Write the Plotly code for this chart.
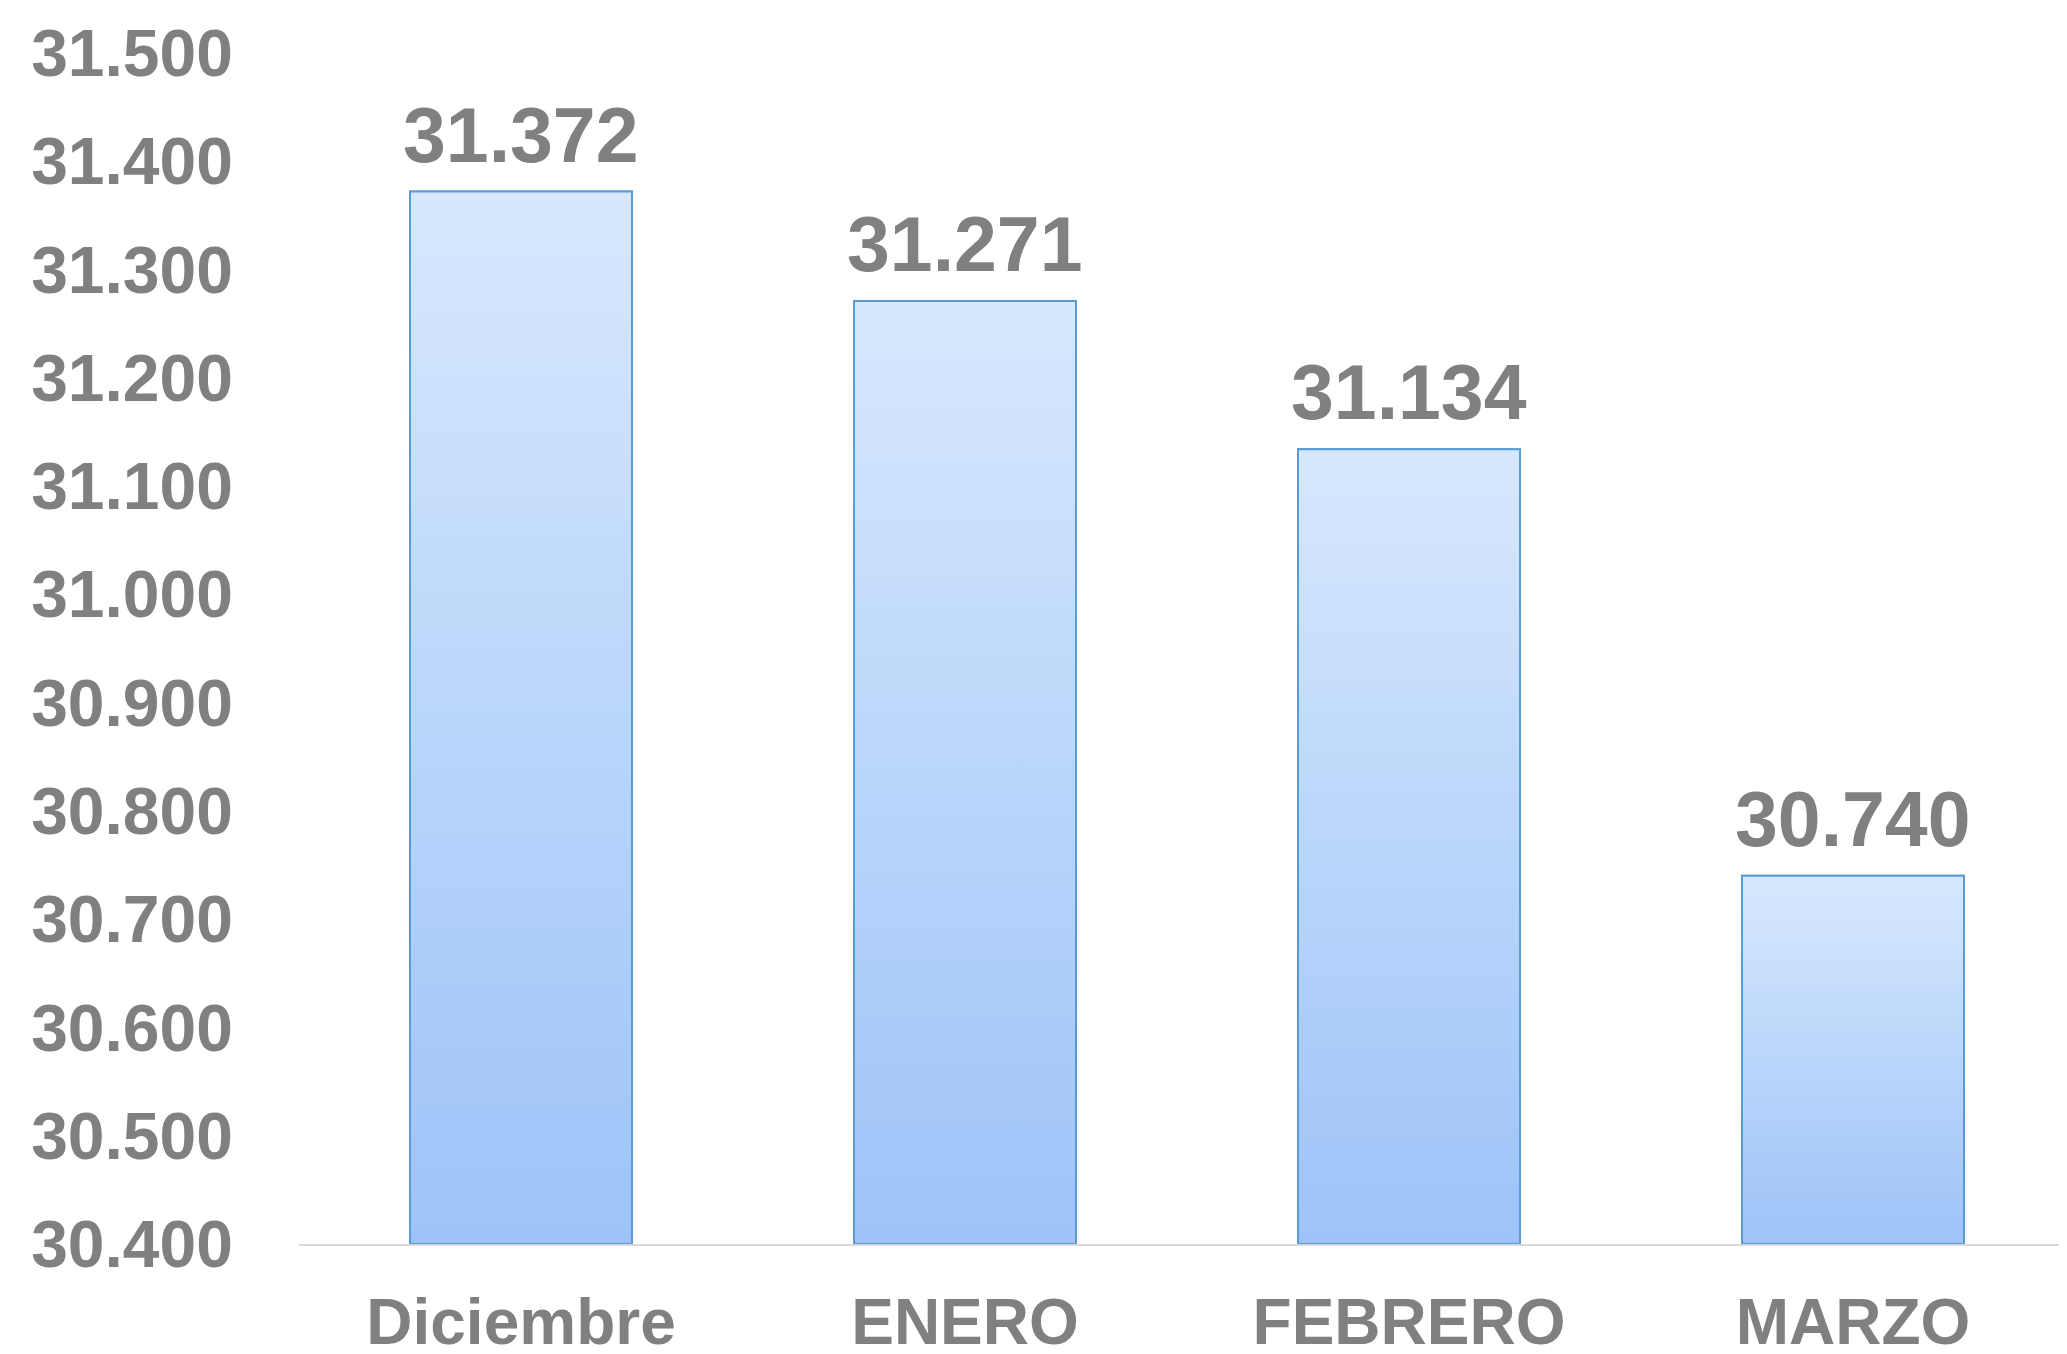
import plotly.graph_objects as go

categories = ["Diciembre", "ENERO", "FEBRERO", "MARZO"]
values = [31372, 31271, 31134, 30740]
y_min, y_max, y_step = 30400, 31500, 100

GRAY = "#808080"
FONT = "Liberation Sans"
BAR_W = 0.5
positions = list(range(len(categories)))

fig = go.Figure()
# base bars (solid) for structure
fig.add_trace(go.Bar(
    x=positions, y=values, width=BAR_W,
    marker=dict(color="#BAD6FA", line=dict(color="#5B9BD5", width=2)),
    hoverinfo="skip",
))
# vertical gradient overlay for each bar, built from the same data
for p, v in zip(positions, values):
    h = BAR_W / 2
    fig.add_trace(go.Scatter(
        x=[p - h, p - h, p + h, p + h, p - h],
        y=[y_min, v, v, y_min, y_min],
        mode="lines", fill="toself",
        line=dict(color="#5B9BD5", width=2),
        fillgradient=dict(type="vertical",
                          colorscale=[[0, "#9DC3F8"], [1, "#D7E8FD"]],
                          start=y_min, stop=v),
        hoverinfo="skip",
    ))

for p, v in zip(positions, values):
    fig.add_annotation(
        x=p, y=v, text=f"{v:,}".replace(",", "."),
        showarrow=False, yanchor="bottom", yshift=12,
        font=dict(family=FONT, size=77, color=GRAY, weight="bold"),
    )

fig.update_layout(
    width=2067, height=1354,
    margin=dict(l=291, r=0, t=45, b=118),
    paper_bgcolor="white", plot_bgcolor="white",
    separators=",.",
    showlegend=False,
)
fig.update_yaxes(
    range=[y_min, y_max], dtick=y_step, tick0=y_min,
    tickformat=",d", showgrid=False, zeroline=False, showline=False,
    tickfont=dict(family=FONT, size=66, color=GRAY, weight="bold"),
    ticklabelstandoff=65, automargin=False,
)
fig.update_xaxes(
    range=[-0.5, len(categories) - 0.5],
    tickmode="array", tickvals=positions, ticktext=categories,
    showline=True, linecolor="#D9D9D9", linewidth=2, showgrid=False,
    zeroline=False,
    tickfont=dict(family=FONT, size=64, color=GRAY, weight="bold"),
    ticklabelstandoff=21, automargin=False,
)
fig.write_html("out.html")
